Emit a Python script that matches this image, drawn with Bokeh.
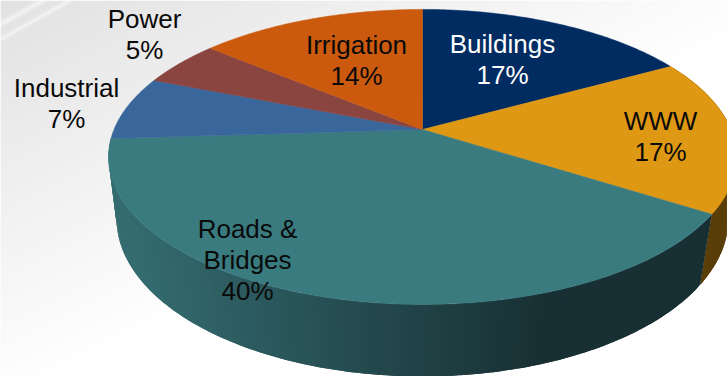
import numpy as np
from bokeh.core.properties import value
from bokeh.embed import file_html
from bokeh.models import Range1d
from bokeh.plotting import figure
from bokeh.resources import INLINE

# Sector shares, clockwise from twelve o'clock
sectors = ["Buildings", "WWW", "Roads & Bridges", "Industrial", "Power", "Irrigation"]
shares = [17, 17, 40, 7, 5, 14]
top_colors = ["#012c62", "#df9813", "#3a7b80", "#39669b", "#8b4540", "#cb5a0f"]

# Label rows per sector, with the anchor of each block and its text colour
label_rows = [["Buildings", "17%"], ["WWW", "17%"], ["Roads &", "Bridges", "40%"],
              ["Industrial", "7%"], ["Power", "5%"], ["Irrigation", "14%"]]
label_x = [502, 660, 247, 66, 144, 356]
label_y = [43, 120, 228, 87, 18, 44]
label_colors = ["#ffffff", "#0a0a0a", "#0a0a0a", "#0a0a0a", "#0a0a0a", "#0a0a0a"]

W, H = 727, 376
CX = 422.0


def rim(theta, a, b, c, k):
    """Perspective projection of a disc rim; theta is clockwise from the far point."""
    u, v = np.sin(theta), np.cos(theta)
    w = 1 + k * v
    return CX + a * u / w, c - b * v / w


def top_rim(theta):
    return rim(theta, 308.5, 142.4, 129.0, 0.186)


def bottom_rim(theta):
    return rim(theta, 302.5, 154.4, 194.3, 0.15)


def mix(c1, c2, t):
    a = np.array([int(c1[i:i + 2], 16) for i in (1, 3, 5)], float)
    b = np.array([int(c2[i:i + 2], 16) for i in (1, 3, 5)], float)
    r = a + (b - a) * t
    return "#%02x%02x%02x" % tuple(int(round(x)) for x in r)


edges = np.cumsum([0] + shares) / sum(shares) * 2 * np.pi

p = figure(width=W, height=H, x_range=Range1d(0, W), y_range=Range1d(H, 0),
           output_backend="svg", toolbar_location=None, min_border=0)
p.axis.visible = False
p.grid.visible = False
p.outline_line_color = None

# Pale grey backdrop that brightens towards the lower right, with two faint diagonal streaks
yy, xx = np.mgrid[0:H, 0:W]
shade = 226 + 29 * np.clip(xx / 800.0 + yy / 400.0, 0, 1)
diag = xx * 0.56 + yy
shade += 15 * np.exp(-((diag - 23) / 3.0) ** 2)
shade += 14 * np.exp(-((diag - 38) / 2.5) ** 2)
shade = np.clip(shade, 0, 255).astype(np.uint8)
rgba = np.zeros((H, W), dtype=np.uint32)
view = rgba.view(dtype=np.uint8).reshape((H, W, 4))
view[..., 0] = shade
view[..., 1] = shade
view[..., 2] = shade
view[..., 3] = 255
p.image_rgba(image=[rgba], x=0, y=0, dw=W, dh=H)

# Outer wall of the near sectors, as overlapping strips shaded along the rim
wall_stops = {
    "WWW": ("#5a3e08", "#5a3e08"),
    "Roads & Bridges": ("#183034", "#346c70"),
}
for name, (c_start, c_end) in wall_stops.items():
    i = sectors.index(name)
    n = max(2, int((edges[i + 1] - edges[i]) * 60))
    th = np.linspace(edges[i], edges[i + 1], n + 1)
    tx, ty = top_rim(th)
    bx, by = bottom_rim(th)
    xs, ys, cols = [], [], []
    for j in range(n):
        k = min(j + 2, n)
        xs.append([tx[j], tx[j + 1], tx[k], bx[k], bx[j + 1], bx[j]])
        ys.append([ty[j], ty[j + 1], ty[k], by[k], by[j + 1], by[j]])
        mid = 0.5 * (tx[j] + tx[j + 1])
        t = np.clip((545 - mid) / (545 - 125), 0, 1)
        cols.append(mix(c_start, c_end, t))
    p.patches(xs, ys, fill_color=cols, line_color=None)

# Top face of the pie
for i, color in enumerate(top_colors):
    th = np.linspace(edges[i], edges[i + 1], 90)
    x, y = top_rim(th)
    p.patch(np.r_[CX, x], np.r_[129.0, y], fill_color=color, line_color=color, line_width=0.5)

# Data labels, one text per row
row_height = 31
for rows, x0, y0, color in zip(label_rows, label_x, label_y, label_colors):
    p.text([x0] * len(rows), [y0 + row_height * k for k in range(len(rows))], text=rows,
           text_font=value("Liberation Sans"), text_font_size="26px", text_color=color,
           text_align="center", text_baseline="middle")

open("out.html", "w").write(file_html(p, INLINE))
